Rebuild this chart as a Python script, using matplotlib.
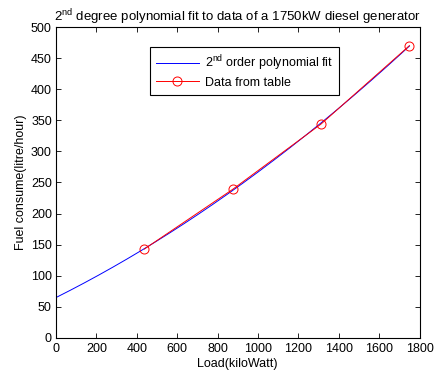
import numpy as np
import matplotlib
matplotlib.use("Agg")
import matplotlib.pyplot as plt

plt.rcParams['font.family'] = ['Liberation Sans', 'DejaVu Sans']
plt.rcParams['mathtext.fontset'] = 'custom'
plt.rcParams['mathtext.rm'] = 'Liberation Sans'
plt.rcParams['mathtext.it'] = 'Liberation Sans:italic'

load_kw = [437.5, 875, 1312.5, 1750]
fuel_lph = [143, 239, 344, 470]
x_ticks = [0, 200, 400, 600, 800, 1000, 1200, 1400, 1600, 1800]
y_ticks = [0, 50, 100, 150, 200, 250, 300, 350, 400, 450, 500]

coef = np.polyfit(load_kw, fuel_lph, 2)
xf = np.linspace(0, max(load_kw), 200)
yf = np.polyval(coef, xf)

fig = plt.figure(figsize=(4.35, 3.75), dpi=100)
ax = fig.add_axes([0.1287, 0.0987, 0.8357, 0.8293])
fs = 9
ax.plot(xf, yf, color='#0000ff', lw=0.7, label=r'2$^{\mathrm{nd}}$ order polynomial fit')
ax.plot(load_kw, fuel_lph, color='#ff0000', lw=0.7, marker='o', ms=6.5,
        mfc='none', mec='#ff0000', mew=0.7, label='Data from table')
ax.set_xlim(0, 1800)
ax.set_ylim(0, 500)
ax.set_xticks(x_ticks)
ax.set_yticks(y_ticks)
ax.tick_params(direction='in', top=True, right=True, labelsize=fs, length=3.5, width=0.6)
ax.tick_params(axis='x', pad=3.5)
ax.tick_params(axis='y', pad=3)
for s in ax.spines.values():
    s.set_linewidth(0.8)
ax.set_xlabel('Load(kiloWatt)', fontsize=fs, labelpad=2)
ax.set_ylabel('Fuel consume(litre/hour)', fontsize=fs, labelpad=3)
ax.set_title(r'2$^{\mathrm{nd}}$ degree polynomial fit to data of a 1750kW diesel generator',
             fontsize=9.5, pad=4)
leg = ax.legend(loc='upper left', bbox_to_anchor=(0.2586, 0.936), borderaxespad=0,
                fontsize=fs, handlelength=3.4, fancybox=False, framealpha=1,
                edgecolor='black', borderpad=0.5, labelspacing=0.3, handletextpad=0.5)
leg.get_frame().set_linewidth(0.8)
fig.savefig('out.png', dpi=100)
